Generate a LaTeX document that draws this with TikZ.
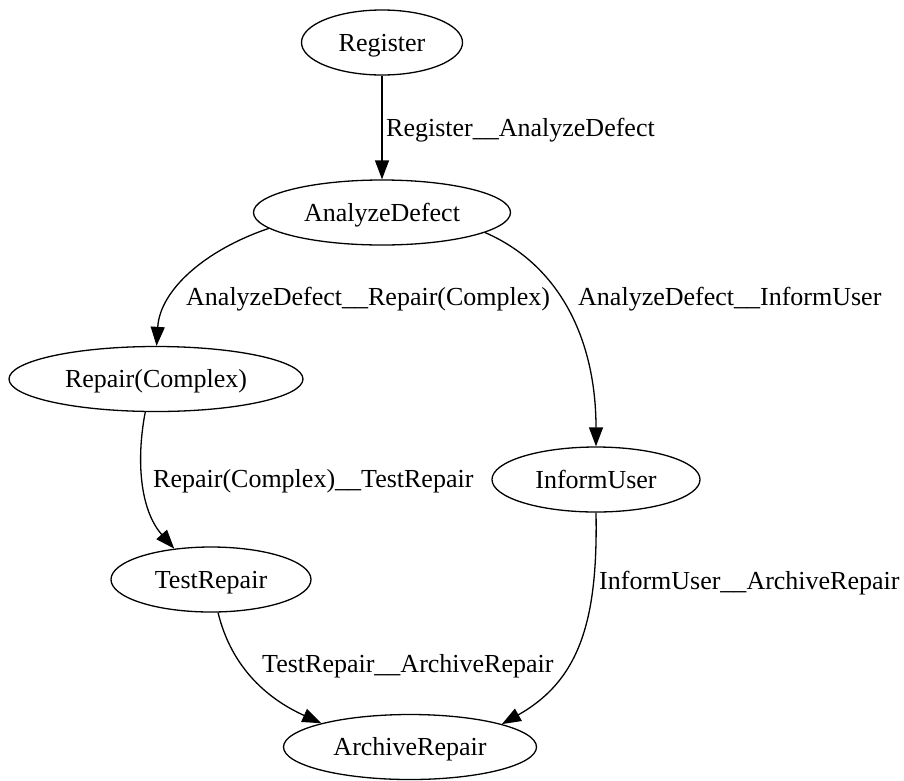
\documentclass[tikz,border=0pt]{standalone}
\usepackage{fontspec}
\setmainfont{Liberation Serif}
\usetikzlibrary{shapes.geometric,arrows.meta}
\begin{document}
\begin{tikzpicture}[x=1pt,y=-1pt,
  state/.style={draw,ellipse,line width=1.3pt,inner sep=0pt,minimum height=65pt,
    font=\fontsize{26}{30}\selectfont,text height=17pt,text depth=0pt},
  edgelabel/.style={anchor=base west,inner sep=0pt,font=\fontsize{26}{30}\selectfont},
  flow/.style={draw,line width=1.3pt,-{Triangle[length=19pt,width=14pt]}}]
\useasboundingbox (0,0) rectangle (904,780);

% states
\node[state,minimum width=161pt] (reg) at (382,42.5) {Register};
\node[state,minimum width=257pt] (ad) at (382,212.5) {AnalyzeDefect};
\node[state,minimum width=294pt] (rc) at (156,379) {Repair(Complex)};
\node[state,minimum width=208pt] (iu) at (596,479.5) {InformUser};
\node[state,minimum width=200pt] (tr) at (211,579.5) {TestRepair};
\node[state,minimum width=253pt] (ar) at (410,747) {ArchiveRepair};

% transition labels
\node[edgelabel] (l1) at (386,136) {Register\_\_AnalyzeDefect};
\node[edgelabel] (l2) at (186,305) {AnalyzeDefect\_\_Repair(Complex)};
\node[edgelabel] (l3) at (578,305) {AnalyzeDefect\_\_InformUser};
\node[edgelabel] (l4) at (153,487) {Repair(Complex)\_\_TestRepair};
\node[edgelabel] (l5) at (599,589) {InformUser\_\_ArchiveRepair};
\node[edgelabel] (l6) at (262,672) {TestRepair\_\_ArchiveRepair};

% transitions
\draw[flow] (reg) -- (ad);
\draw[flow] (ad.188) .. controls (205,250) and (160,290) .. (rc.89);
\draw[flow] (ad.-11.5) .. controls (560,265) and (596,340) .. (iu.north);
\draw[flow] (rc.252) .. controls (136,460) and (140,510) .. (tr.140);
\draw[flow] (iu.south) .. controls (598,620) and (580,680) .. (ar.14.5);
\draw[flow] (tr.-78) .. controls (232,670) and (270,700) .. (ar.165);
\end{tikzpicture}
\end{document}
